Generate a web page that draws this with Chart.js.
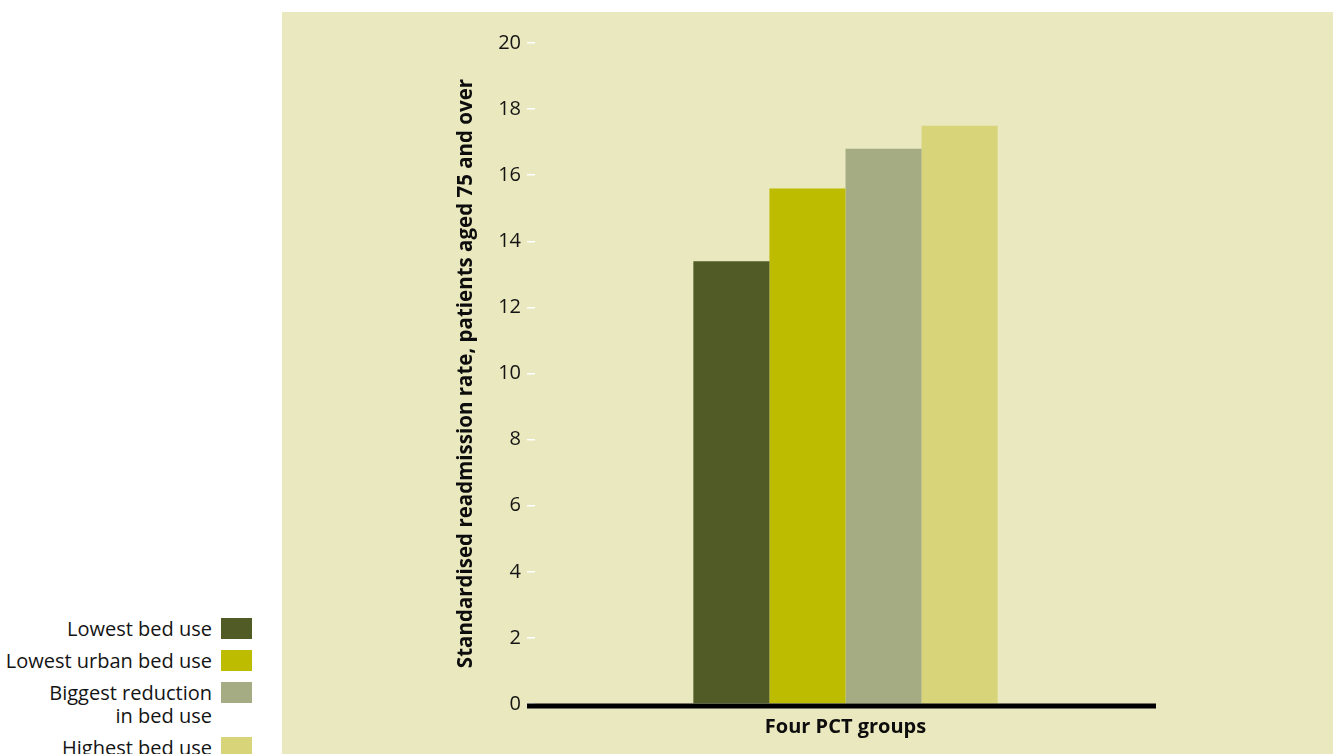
<!DOCTYPE html>
<html>
<head>
<meta charset="utf-8">
<script src="https://cdn.jsdelivr.net/npm/chart.js@4"></script>
<style>
  html, body { margin: 0; padding: 0; background: #ffffff; }
  body { width: 1333px; height: 754px; position: relative; overflow: hidden; font-family: "Open Sans", sans-serif; }
  #panel { position: absolute; left: 282px; top: 12px; width: 1051px; height: 742px; background: #EAE8BE; }
  #legend { position: absolute; left: 0; top: 617px; width: 252px; }
  .item { display: flex; justify-content: flex-end; align-items: flex-start; margin-bottom: 9px; }
  .item .txt { font-size: 20px; line-height: 23px; color: #141414; text-align: right; white-space: pre-line; }
  .item .box { width: 31px; height: 21px; margin-left: 9px; margin-top: 1px; flex: none; }
</style>
</head>
<body>
<div id="panel"><canvas id="c" width="1051" height="742"></canvas></div>
<div id="legend"></div>
<script>
const categories = ['Four PCT groups'];
const seriesNames = ['Lowest bed use', 'Lowest urban bed use', 'Biggest reduction\nin bed use', 'Highest bed use'];
const seriesValues = [[13.4], [15.6], [16.8], [17.5]];
const seriesColors = ['#515B26', '#BDBC00', '#A5AC83', '#D7D479'];
const yTicks = [0, 2, 4, 6, 8, 10, 12, 14, 16, 18, 20];
const yTitle = 'Standardised readmission rate, patients aged 75 and over';

// HTML legend built from the series arrays
const legend = document.getElementById('legend');
seriesNames.forEach((n, i) => {
  const it = document.createElement('div'); it.className = 'item';
  const t = document.createElement('div'); t.className = 'txt'; t.textContent = n;
  const b = document.createElement('div'); b.className = 'box'; b.style.background = seriesColors[i];
  it.appendChild(t); it.appendChild(b); legend.appendChild(it);
});

const axisLine = {
  id: 'axisLine',
  afterDatasetsDraw(chart) {
    const { ctx, chartArea } = chart;
    const y = chart.scales.y.getPixelForValue(0) + 2;
    ctx.save();
    ctx.strokeStyle = '#000';
    ctx.lineWidth = 5;
    ctx.beginPath();
    ctx.moveTo(chartArea.left - 8, y);
    ctx.lineTo(chartArea.right, y);
    ctx.stroke();
    ctx.restore();
  }
};

new Chart(document.getElementById('c'), {
  type: 'bar',
  data: {
    labels: categories,
    datasets: seriesNames.map((n, i) => ({
      label: n.replace('\n', ' '),
      data: seriesValues[i],
      backgroundColor: seriesColors[i],
      borderWidth: 0
    }))
  },
  options: {
    responsive: false,
    animation: false,
    devicePixelRatio: 1,
    layout: { padding: { left: 170, right: 177, top: 31, bottom: 0 } },
    datasets: { bar: { barPercentage: 1, categoryPercentage: 0.49 } },
    plugins: { legend: { display: false }, tooltip: { enabled: false } },
    scales: {
      x: {
        grid: { display: false },
        border: { display: false },
        ticks: { display: false },
        title: {
          display: true, text: categories[0], color: '#0d0d0d',
          font: { family: 'Open Sans', size: 20, weight: 'bold' },
          padding: { top: 0, bottom: 15 }
        },
        afterFit(s) { s.height = 50; }
      },
      y: {
        min: 0, max: 20,
        afterBuildTicks(s) { s.ticks = yTicks.map(v => ({ value: v })); },
        grid: { display: true, drawOnChartArea: false, drawTicks: true, tickLength: 8, color: '#ffffff', lineWidth: 1.5 },
        border: { display: false },
        ticks: { color: '#141414', padding: 6, font: { family: 'Open Sans', size: 20 } },
        title: {
          display: true, text: yTitle, color: '#0d0d0d',
          font: { family: 'Open Sans', size: 20.5, weight: 'bold' },
          padding: { top: 2, bottom: 0 }
        },
        afterFit(s) { s.width = 83; }
      }
    }
  },
  plugins: [axisLine]
});
</script>
</body>
</html>
